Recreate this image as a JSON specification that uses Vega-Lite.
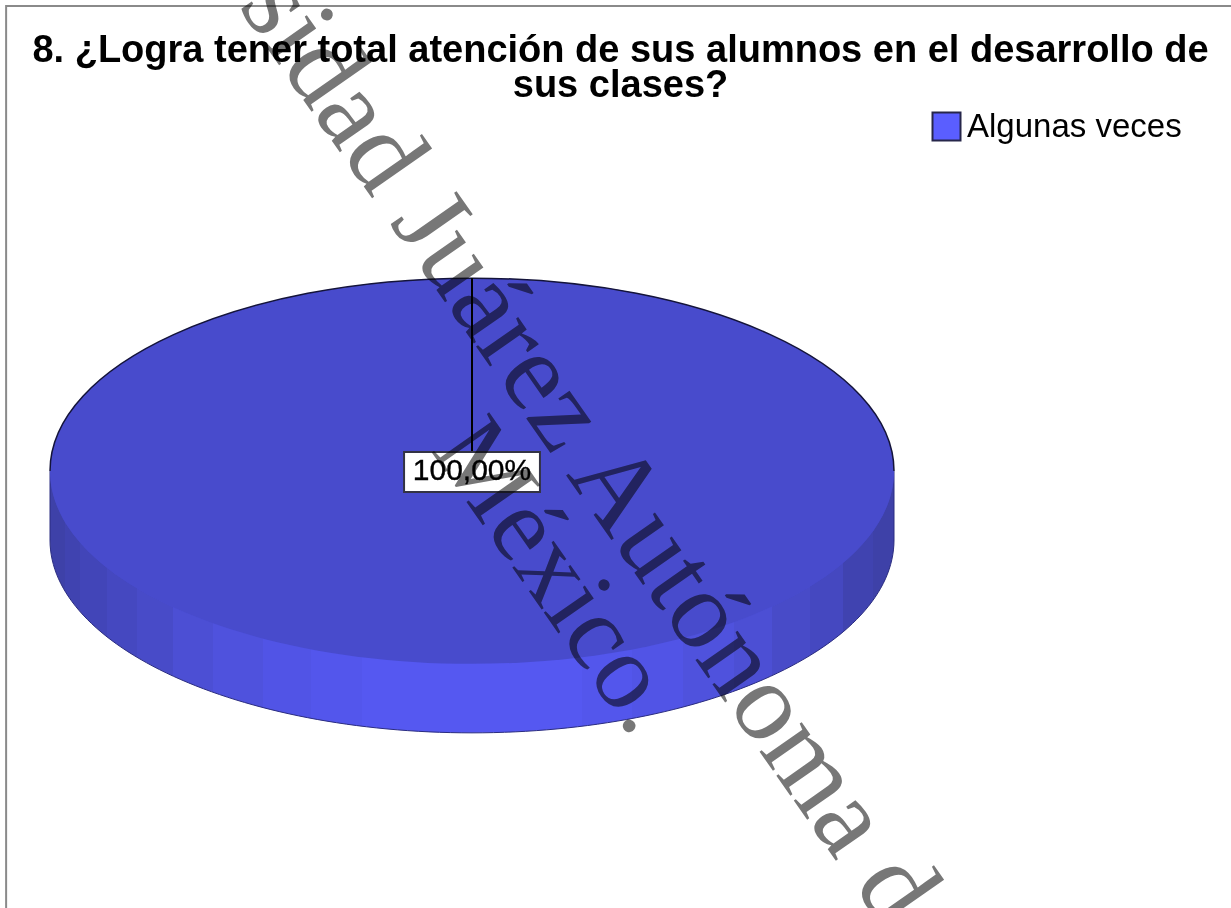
{
"$schema":"https://vega.github.io/schema/vega-lite/v6.json",
"width":1231,"height":808,"padding":{"top":100,"left":0,"right":0,"bottom":0},"autosize":{"type":"none"},"background":"white",
"config":{"view":{"stroke":null},"font":"Liberation Sans"},
"title":{"text":["8. ¿Logra tener total atención de sus alumnos en el desarrollo de","sus clases?"],"anchor":"middle","frame":"group","offset":0,"dx":5,"dy":436,"baseline":"alphabetic","fontSize":38,"fontWeight":"bold","font":"Liberation Sans","lineHeight":35,"color":"#000000"},
"data":{"values":[{"respuesta":"Algunas veces","porcentaje":100,"etiqueta":"100,00%"}]},
"encoding":{
"x":{"datum":0,"type":"quantitative","scale":{"domain":[-1.1185,1.7986],"nice":false,"zero":false},"axis":null},
"y":{"datum":0,"type":"quantitative","scale":{"domain":[-1.0355,0.8791],"nice":false,"zero":false},"axis":null}
},
"layer":[
{"mark":{"type":"rect","fill":null,"fillOpacity":0,"stroke":"#8a8a8a","strokeWidth":2},
 "encoding":{"x":{"datum":-1.104,"type":"quantitative"},"x2":{"datum":2},"y":{"datum":1.102,"type":"quantitative"},"y2":{"datum":-1.2}}},
{"mark":{"type":"point","filled":true,"opacity":1,"size":712336,"stroke":"#2a2c80","strokeWidth":1,
 "shape":"M-1,0 L-1,0.1635 C-1,0.4159 -0.5523,0.6205 0,0.6205 C0.5523,0.6205 1,0.4159 1,0.1635 L1,0 Z",
 "fill":{"gradient":"linear","x1":0,"y1":0,"x2":1,"y2":0,"stops":[
 {"offset":0,"color":"#3e41a8"},{"offset":0.018,"color":"#3e41a8"},{"offset":0.018,"color":"#4043b0"},{"offset":0.036,"color":"#4043b0"},{"offset":0.036,"color":"#4245b8"},{"offset":0.068,"color":"#4245b8"},{"offset":0.068,"color":"#4548c0"},{"offset":0.103,"color":"#4548c0"},{"offset":0.103,"color":"#484bc8"},{"offset":0.146,"color":"#484bc8"},{"offset":0.146,"color":"#4c4fd4"},{"offset":0.193,"color":"#4c4fd4"},{"offset":0.193,"color":"#4f52dd"},{"offset":0.252,"color":"#4f52dd"},{"offset":0.252,"color":"#5154e6"},{"offset":0.309,"color":"#5154e6"},{"offset":0.309,"color":"#5356ec"},{"offset":0.37,"color":"#5356ec"},{"offset":0.37,"color":"#5558f1"},{"offset":0.63,"color":"#5558f1"},{"offset":0.63,"color":"#5356ec"},{"offset":0.69,"color":"#5356ec"},{"offset":0.69,"color":"#5154e6"},{"offset":0.75,"color":"#5154e6"},{"offset":0.75,"color":"#4f52dd"},{"offset":0.81,"color":"#4f52dd"},{"offset":0.81,"color":"#4c4fd4"},{"offset":0.855,"color":"#4c4fd4"},{"offset":0.855,"color":"#484bc8"},{"offset":0.9,"color":"#484bc8"},{"offset":0.9,"color":"#4548c0"},{"offset":0.94,"color":"#4548c0"},{"offset":0.94,"color":"#4043b0"},{"offset":0.975,"color":"#4043b0"},{"offset":0.975,"color":"#3e41a8"},{"offset":1,"color":"#3e41a8"}]}},
 "encoding":{}},
{"mark":{"type":"point","filled":true,"opacity":1,"size":712336,"strokeWidth":0,
 "shape":"M-1,0 C-1,-0.2524 -0.5523,-0.457 0,-0.457 C0.5523,-0.457 1,-0.2524 1,0 C1,0.2524 0.5523,0.457 0,0.457 C-0.5523,0.457 -1,0.2524 -1,0 Z"},
 "encoding":{"color":{"field":"respuesta","type":"nominal","scale":{"range":["#5a5eff"]},
  "legend":{"title":null,"orient":"none","legendX":930,"legendY":10,"symbolType":"square","symbolSize":784,"symbolStrokeColor":"#26264a","symbolStrokeWidth":2,"symbolOpacity":1,"labelFont":"Liberation Sans","labelFontSize":33,"labelColor":"#000000","labelOffset":4,"labelLimit":300,"rowPadding":0}}}},
{"mark":{"type":"point","filled":true,"opacity":0.2,"size":712336,"strokeWidth":0,"fill":"#000000",
 "shape":"M-1,0 C-1,-0.2524 -0.5523,-0.457 0,-0.457 C0.5523,-0.457 1,-0.2524 1,0 C1,0.2524 0.5523,0.457 0,0.457 C-0.5523,0.457 -1,0.2524 -1,0 Z"},
 "encoding":{}},
{"mark":{"type":"point","filled":false,"opacity":1,"size":712336,"stroke":"#14143a","strokeWidth":1.5,
 "shape":"M-1,0 C-1,-0.2524 -0.5523,-0.457 0,-0.457 C0.5523,-0.457 1,-0.2524 1,0"},
 "encoding":{}},
{"mark":{"type":"rule","color":"#000000","strokeWidth":2},
 "encoding":{"y":{"datum":0.457,"type":"quantitative"},"y2":{"datum":0.045}}},
{"mark":{"type":"rect","fill":"#ffffff","stroke":"#333344","strokeWidth":2},
 "encoding":{"x":{"datum":-0.161,"type":"quantitative"},"x2":{"datum":0.161},"y":{"datum":0.045,"type":"quantitative"},"y2":{"datum":-0.0498}}},
{"mark":{"type":"text","font":"Liberation Sans","fontSize":30,"align":"center","baseline":"middle","color":"#000000","stroke":"#000000","strokeWidth":0.4},
 "encoding":{"text":{"field":"etiqueta"}}},
{"data":{"values":[{"marca":"Universidad Juárez Autónoma de"}]},
 "mark":{"type":"text","font":"Liberation Serif","fontSize":112,"align":"left","baseline":"alphabetic","angle":55,"color":"#777777","blend":"multiply"},
 "encoding":{"x":{"datum":-0.9787,"type":"quantitative"},"y":{"datum":1.706,"type":"quantitative"},"text":{"field":"marca"}}},
{"data":{"values":[{"marca":"México."}]},
 "mark":{"type":"text","font":"Liberation Serif","fontSize":107,"align":"left","baseline":"alphabetic","angle":55,"color":"#777777","blend":"multiply"},
 "encoding":{"x":{"datum":-0.0995,"type":"quantitative"},"y":{"datum":0.0498,"type":"quantitative"},"text":{"field":"marca"}}}
]
}
